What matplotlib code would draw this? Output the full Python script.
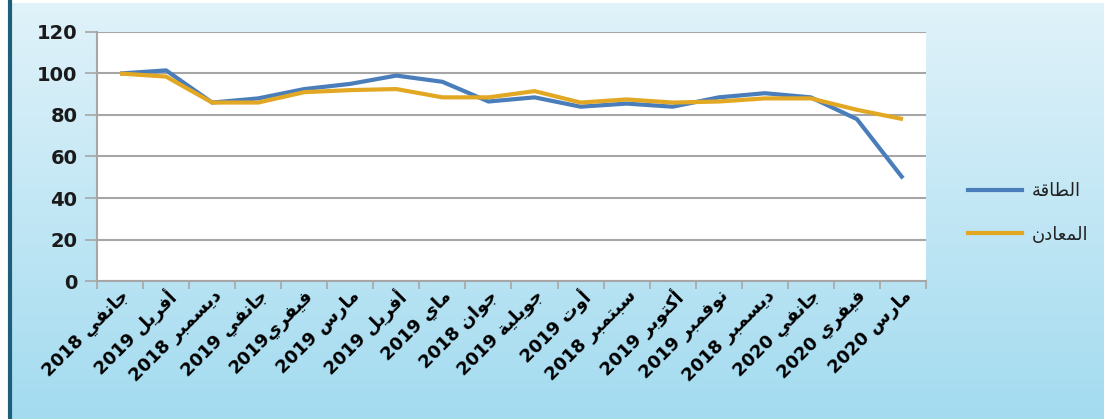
import numpy as np
import matplotlib
matplotlib.use("Agg")
import matplotlib.pyplot as plt
from matplotlib.lines import Line2D

# monthly index values
months = ["جانفي", "أفريل", "ديسمبر", "جانفي", "فيفري", "مارس", "أفريل", "ماي", "جوان",
          "جويلية", "أوت", "سبتمبر", "أكتوبر", "نوفمبر", "ديسمبر", "جانفي", "فيفري", "مارس"]
years = ["2018", "2019", "2018", "2019", "2019", "2019", "2019", "2019", "2018",
         "2019", "2019", "2018", "2019", "2019", "2018", "2020", "2020", "2020"]
energy = [100, 101.5, 86, 88, 92.5, 95, 99, 96, 86.5, 88.5, 84, 85.5, 84, 88.5, 90.5, 88.5, 78, 49.5]
minerals = [100, 98.5, 86, 86, 91, 92, 92.5, 88.5, 88.5, 91.5, 86, 87.5, 86, 86.5, 88, 88, 82.5, 78]

series_names = ["الطاقة", "المعادن"]
colors = ["#4a7ebb", "#e3a823"]

# presentation forms: isolated, final, initial, medial
FORMS = {
    "ا": ("\uFE8D", "\uFE8E", None, None),
    "أ": ("\uFE83", "\uFE84", None, None),
    "ب": ("\uFE8F", "\uFE90", "\uFE91", "\uFE92"),
    "ة": ("\uFE93", "\uFE94", None, None),
    "ت": ("\uFE95", "\uFE96", "\uFE97", "\uFE98"),
    "ج": ("\uFE9D", "\uFE9E", "\uFE9F", "\uFEA0"),
    "د": ("\uFEA9", "\uFEAA", None, None),
    "ر": ("\uFEAD", "\uFEAE", None, None),
    "س": ("\uFEB1", "\uFEB2", "\uFEB3", "\uFEB4"),
    "ط": ("\uFEC1", "\uFEC2", "\uFEC3", "\uFEC4"),
    "ع": ("\uFEC9", "\uFECA", "\uFECB", "\uFECC"),
    "ف": ("\uFED1", "\uFED2", "\uFED3", "\uFED4"),
    "ق": ("\uFED5", "\uFED6", "\uFED7", "\uFED8"),
    "ك": ("\uFED9", "\uFEDA", "\uFEDB", "\uFEDC"),
    "ل": ("\uFEDD", "\uFEDE", "\uFEDF", "\uFEE0"),
    "م": ("\uFEE1", "\uFEE2", "\uFEE3", "\uFEE4"),
    "ن": ("\uFEE5", "\uFEE6", "\uFEE7", "\uFEE8"),
    "و": ("\uFEED", "\uFEEE", None, None),
    "ي": ("\uFEF1", "\uFEF2", "\uFEF3", "\uFEF4"),
}


def shape(word):
    out = []
    for i, c in enumerate(word):
        if c not in FORMS:
            out.append(c)
            continue
        iso, fin, ini, med = FORMS[c]
        prev = word[i - 1] if i > 0 else None
        nxt = word[i + 1] if i < len(word) - 1 else None
        jp = prev in FORMS and FORMS[prev][2] is not None
        jn = nxt in FORMS and ini is not None
        if jp and jn:
            out.append(med)
        elif jp:
            out.append(fin)
        elif jn:
            out.append(ini)
        else:
            out.append(iso)
    return "".join(reversed(out))


labels = [y + ("" if i == 4 else " ") + shape(m)
          for i, (m, y) in enumerate(zip(months, years))]

W, H = 1108, 419
fig = plt.figure(figsize=(W / 100, H / 100), dpi=100, facecolor="white")

# sky-blue gradient backdrop
bg = fig.add_axes([10 / W, 0, 1 - 14 / W, 1 - 3 / H])
grad = np.linspace(0, 1, 256)[:, None]
c_top = np.array([0.88, 0.95, 0.98])
c_bot = np.array([0.64, 0.86, 0.94])
img = c_top[None, None, :] * (1 - grad[:, :, None]) + c_bot[None, None, :] * grad[:, :, None]
bg.imshow(np.repeat(img, 2, axis=1), aspect="auto", extent=[0, 1, 0, 1])
bg.set_axis_off()
fig.add_artist(Line2D([10 / W, 10 / W], [0, 1], color="#1d5f7a", lw=3))

ax = fig.add_axes([97 / W, 1 - 281 / H, (926 - 97) / W, (281 - 32) / H])
ax.set_facecolor("white")
x = np.arange(len(labels))
ax.plot(x, energy, color=colors[0], lw=3, solid_capstyle="butt", zorder=3)
ax.plot(x, minerals, color=colors[1], lw=3, solid_capstyle="butt", zorder=3)

ax.set_xlim(-0.5, len(labels) - 0.5)
ax.set_ylim(0, 120)
ax.set_yticks(range(0, 121, 20))
ax.grid(axis="y", color="#a6a6a6", lw=1.5)
ax.set_axisbelow(True)

ax.set_xticks(np.arange(-0.5, len(labels)), [])
ax.set_xticks(x, labels, minor=True)
ax.tick_params(axis="x", which="major", length=6, width=1.2, color="#a6a6a6")
ax.tick_params(axis="x", which="minor", length=0, pad=4)
ax.tick_params(axis="y", length=9, width=1.2, color="#a6a6a6", pad=5)
for t in ax.get_xticklabels(minor=True):
    t.set_rotation(45)
    t.set_ha("right")
    t.set_va("top")
    t.set_rotation_mode("anchor")
    t.set_fontsize(13)
    t.set_fontweight("heavy")
    t.set_color("black")
for t in ax.get_yticklabels():
    t.set_fontsize(14)
    t.set_fontweight("bold")
    t.set_color("#1a1a1a")

for s in ["top", "right"]:
    ax.spines[s].set_visible(False)
for s in ["left", "bottom"]:
    ax.spines[s].set_color("#a6a6a6")
    ax.spines[s].set_linewidth(1.5)

handles = [Line2D([], [], color=c, lw=3) for c in colors]
fig.legend(handles, [shape(n) for n in series_names], loc="center left",
           bbox_to_anchor=(952 / W, 1 - 213 / H), frameon=False, fontsize=13,
           handlelength=3.0, handletextpad=0.5, labelspacing=1.4,
           labelcolor="#222222")

fig.savefig("out.png", dpi=100)
